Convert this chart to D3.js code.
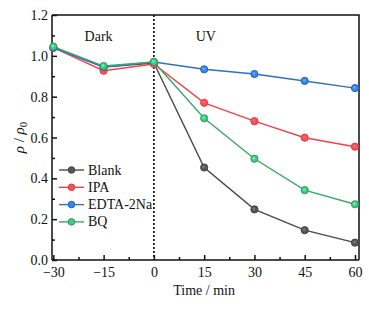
<!DOCTYPE html>
<html>
<head>
<meta charset="utf-8">
<script src="https://d3js.org/d3.v7.min.js"></script>
<style>
    body { margin: 0; background: #fff; }
    text { font-family: "Liberation Serif", "Times New Roman", "DejaVu Serif", serif !important; fill: #111; }
    .axis path, .axis line { stroke: #111; stroke-width: 1.5px; }
</style>
</head>
<body>
<svg id="chart" width="369" height="309" font-family="Liberation Serif, serif"></svg>
<script>
    // time points (min)
    const times = [-30, -15, 0, 15, 30, 45, 60];
    const xTicks = [-30, -15, 0, 15, 30, 45, 60];
    const yTicks = [0.0, 0.2, 0.4, 0.6, 0.8, 1.0, 1.2];
    const yTickLabels = ["0.0", "0.2", "0.4", "0.6", "0.8", "1.0", "1.2"];
    const seriesNames = ["Blank", "IPA", "EDTA-2Na", "BQ"];
    const seriesColors = ["#4a4a4a", "#ef4349", "#2f6fc6", "#3aa86a"];
    // rho / rho0 values
    const blank = [1.04, 0.945, 0.965, 0.453, 0.248, 0.146, 0.085];
    const ipa = [1.04, 0.927, 0.960, 0.770, 0.680, 0.599, 0.555];
    const edta = [1.04, 0.945, 0.970, 0.934, 0.911, 0.877, 0.842];
    const bq = [1.045, 0.950, 0.970, 0.694, 0.496, 0.342, 0.273];
    const allSeries = [blank, ipa, edta, bq];

    const svg = d3.select("#chart");
    const margin = { top: 15, right: 10, bottom: 49, left: 52 };
    const width = 369 - margin.left - margin.right;
    const height = 309 - margin.top - margin.bottom;

    const x = d3.scaleLinear().domain([-30.4, 61.2]).range([0, width]);
    const y = d3.scaleLinear().domain([0, 1.2]).range([height, 0]);

    const g = svg.append("g").attr("transform", `translate(${margin.left},${margin.top})`);

    // frame (top and right)
    g.append("path")
        .attr("d", `M0,0H${width}V${height}`)
        .attr("fill", "none").attr("stroke", "#111").attr("stroke-width", 1.5);

    const fmtX = d => d < 0 ? "\u2212" + Math.abs(d) : String(d);

    // x axis
    const xAxis = g.append("g").attr("class", "axis")
        .attr("transform", `translate(0,${height})`)
        .call(d3.axisBottom(x).tickValues(xTicks).tickSize(-5).tickPadding(7).tickFormat(fmtX));
    xAxis.select(".domain").attr("d", `M0,0H${width}`);
    xAxis.selectAll("text").style("font-size", "14px");
    g.append("g").attr("class", "axis")
        .attr("transform", `translate(0,${height})`)
        .call(d3.axisBottom(x).tickValues(d3.range(-22.5, 60, 15)).tickSize(-3).tickFormat(""))
        .select(".domain").remove();

    // y axis (labels written separately)
    const yAxis = g.append("g").attr("class", "axis")
        .call(d3.axisLeft(y).tickValues(yTicks).tickSize(-5).tickFormat(""));
    yAxis.select(".domain").attr("d", `M0,0V${height}`);
    g.append("g").attr("class", "axis")
        .call(d3.axisLeft(y).tickValues(d3.range(0.1, 1.2, 0.2)).tickSize(-3).tickFormat(""))
        .select(".domain").remove();
    g.selectAll(".axis").attr("font-family", null);
    g.selectAll(".ylabel").data(yTicks).enter().append("text")
        .attr("class", "ylabel")
        .attr("x", -4).attr("y", d => y(d) + 5)
        .attr("text-anchor", "end").style("font-size", "14px")
        .text((d, i) => yTickLabels[i]);

    // dark / UV divider
    g.append("line")
        .attr("x1", x(0)).attr("x2", x(0))
        .attr("y1", 0).attr("y2", height)
        .attr("stroke", "#111").attr("stroke-width", 1.7)
        .attr("stroke-dasharray", "2,2");

    g.append("text").attr("x", x(-16.5)).attr("y", 26)
        .attr("text-anchor", "middle").style("font-size", "14px").text("Dark");
    g.append("text").attr("x", x(15.5)).attr("y", 26)
        .attr("text-anchor", "middle").style("font-size", "14px").text("UV");

    const line = d3.line().x((d, i) => x(times[i])).y(d => y(d));

    allSeries.forEach((s, k) => {
        g.append("path").datum(s)
            .attr("d", line)
            .attr("fill", "none")
            .attr("stroke", seriesColors[k])
            .attr("stroke-width", 1.4);
    });
    allSeries.forEach((s, k) => {
        const c = d3.color(seriesColors[k]);
        g.selectAll(null).data(s).enter().append("circle")
            .attr("cx", (d, i) => x(times[i]))
            .attr("cy", d => y(d))
            .attr("r", 3.6)
            .attr("fill", c.brighter(0.5))
            .attr("stroke", c.darker(0.3))
            .attr("stroke-width", 1);
        g.selectAll(null).data(s).enter().append("circle")
            .attr("cx", (d, i) => x(times[i]) - 0.5)
            .attr("cy", d => y(d) - 0.6)
            .attr("r", 1.2)
            .attr("fill", c.brighter(1.5));
    });

    // legend
    const leg = g.append("g").attr("transform", "translate(7,155)");
    seriesNames.forEach((name, i) => {
        const yy = i * 17.3;
        leg.append("line").attr("x1", 0).attr("x2", 25).attr("y1", yy).attr("y2", yy)
            .attr("stroke", seriesColors[i]).attr("stroke-width", 1.4);
        const c = d3.color(seriesColors[i]);
        leg.append("circle").attr("cx", 12.5).attr("cy", yy).attr("r", 3.3)
            .attr("fill", c.brighter(0.5)).attr("stroke", c.darker(0.3));
        leg.append("text").attr("x", 29).attr("y", yy + 4.5)
            .style("font-size", "14px").text(name);
    });

    // axis titles
    svg.append("text")
        .attr("x", margin.left + x(15)).attr("y", 295)
        .attr("text-anchor", "middle").style("font-size", "14px")
        .text("Time / min");

    const yl = svg.append("text")
        .attr("transform", `translate(24,${margin.top + height / 2}) rotate(-90)`)
        .attr("text-anchor", "middle").style("font-size", "15px");
    yl.append("tspan").style("font-style", "italic").text("\u03c1");
    yl.append("tspan").text(" / ");
    yl.append("tspan").style("font-style", "italic").text("\u03c1");
    yl.append("tspan").attr("dy", 3).style("font-size", "11px").text("0");
</script>
</body>
</html>
